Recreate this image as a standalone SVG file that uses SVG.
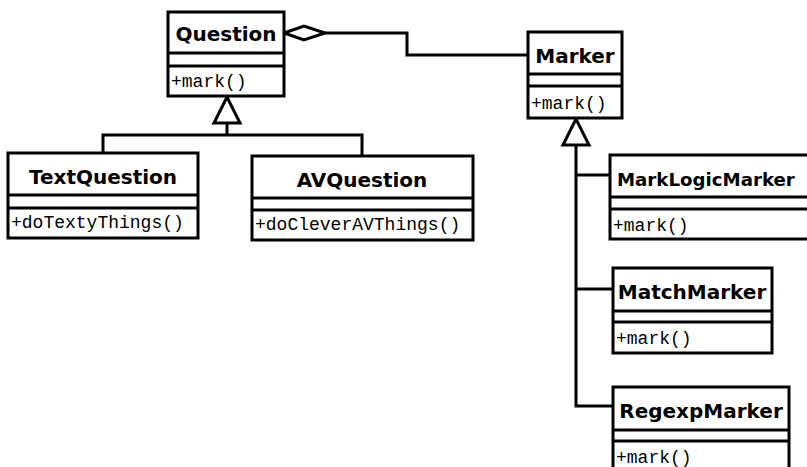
<svg xmlns="http://www.w3.org/2000/svg" width="807" height="467" viewBox="0 0 807 467">
<style>
.box{fill:#fff;stroke:#000;stroke-width:3}
.div{stroke:#000;stroke-width:3}
.name{font-family:"DejaVu Sans",sans-serif;font-weight:bold;font-size:20px;fill:#000;text-anchor:middle}
.op{font-family:"Liberation Mono",monospace;font-size:18px;fill:#000}
.con{fill:none;stroke:#000;stroke-width:3}
.tri{fill:#fff;stroke:#000;stroke-width:3;stroke-linejoin:miter}
</style>
<rect width="807" height="467" fill="#fff"/>
<g id="connectors">
<polyline class="con" points="325,33 407,33 407,55 528,55"/>
<polygon class="tri" points="284,33 304,26 325,33 304,40"/>
<polyline class="con" points="227,123 227,135"/>
<polyline class="con" points="103,153 103,135 362,135 362,156"/>
<polygon class="tri" points="227,97 214,123 240,123"/>
<polyline class="con" points="576,145 576,406 613,406"/>
<line class="con" x1="576" y1="175" x2="610" y2="175"/>
<line class="con" x1="576" y1="289" x2="613" y2="289"/>
<polygon class="tri" points="576,119 563,145 589,145"/>
</g>
<g id="Question">
<rect class="box" x="168" y="12" width="116" height="84"/>
<line class="div" x1="168" y1="53" x2="284" y2="53"/>
<line class="div" x1="168" y1="66" x2="284" y2="66"/>
<text class="name" x="226" y="41">Question</text>
<text class="op" x="171" y="87">+mark()</text>
</g>
<g id="Marker">
<rect class="box" x="528" y="32" width="94" height="86"/>
<line class="div" x1="528" y1="74" x2="622" y2="74"/>
<line class="div" x1="528" y1="86" x2="622" y2="86"/>
<text class="name" x="575" y="63">Marker</text>
<text class="op" x="531" y="109">+mark()</text>
</g>
<g id="TextQuestion">
<rect class="box" x="8" y="153" width="190" height="85"/>
<line class="div" x1="8" y1="195" x2="198" y2="195"/>
<line class="div" x1="8" y1="208" x2="198" y2="208"/>
<text class="name" x="103" y="184">TextQuestion</text>
<text class="op" x="11" y="228">+doTextyThings()</text>
</g>
<g id="AVQuestion">
<rect class="box" x="252" y="156" width="221" height="84"/>
<line class="div" x1="252" y1="198" x2="473" y2="198"/>
<line class="div" x1="252" y1="210" x2="473" y2="210"/>
<text class="name" x="362" y="187">AVQuestion</text>
<text class="op" x="255" y="230">+doCleverAVThings()</text>
</g>
<g id="MarkLogicMarker">
<rect class="box" x="610" y="155" width="215" height="84"/>
<line class="div" x1="610" y1="197" x2="825" y2="197"/>
<line class="div" x1="610" y1="209" x2="825" y2="209"/>
<text class="name" x="617" y="186" style="text-anchor:start;font-size:18.2px">MarkLogicMarker</text>
<text class="op" x="613" y="231">+mark()</text>
</g>
<g id="MatchMarker">
<rect class="box" x="613" y="268" width="159" height="85"/>
<line class="div" x1="613" y1="311" x2="772" y2="311"/>
<line class="div" x1="613" y1="322" x2="772" y2="322"/>
<text class="name" x="692" y="299">MatchMarker</text>
<text class="op" x="616" y="344">+mark()</text>
</g>
<g id="RegexpMarker">
<rect class="box" x="613" y="387" width="176" height="90"/>
<line class="div" x1="613" y1="430" x2="789" y2="430"/>
<line class="div" x1="613" y1="441" x2="789" y2="441"/>
<text class="name" x="701" y="418">RegexpMarker</text>
<text class="op" x="616" y="463">+mark()</text>
</g>
</svg>
